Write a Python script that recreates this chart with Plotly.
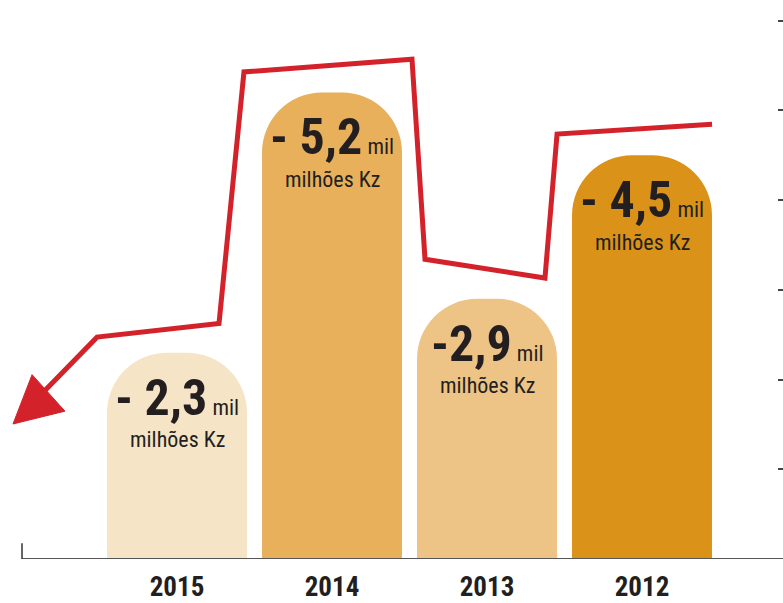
import plotly.graph_objects as go

# ---- data ----
years = ["2015", "2014", "2013", "2012"]
values = [2.3, 5.2, 2.9, 4.5]
value_labels = ["- 2,3", "- 5,2", "-2,9", "- 4,5"]
bar_colors = ["#f6e4c6", "#e8b05b", "#eec386", "#db9218"]
y_ticks = [0, 1, 2, 3, 4, 5, 6]

# decorative trend line (axis units)
trend_x = [-0.852, -0.516, 0.271, 0.432, 1.516, 1.600, 2.374, 2.452, 3.452]
trend_y = [1.879, 2.473, 2.626, 5.429, 5.571, 3.341, 3.132, 4.736, 4.846]
arrow_x = [-1.058, -0.935, -0.723, -1.058]
arrow_y = [1.505, 2.055, 1.648, 1.505]

FONT = "Roboto Condensed, Open Sans Condensed, Liberation Sans Narrow, sans-serif"
TXT = "#231f20"
RED = "#d3222a"

xpos = list(range(len(years)))

fig = go.Figure()
fig.add_trace(go.Bar(
    x=xpos, y=values, width=0.903,
    marker=dict(color=bar_colors, line=dict(width=0), cornerradius=60),
    hoverinfo="skip", showlegend=False,
))
fig.add_trace(go.Scatter(x=trend_x, y=trend_y, mode="lines",
                         line=dict(color=RED, width=5), hoverinfo="skip", showlegend=False))
fig.add_trace(go.Scatter(x=arrow_x, y=arrow_y, mode="lines", fill="toself", fillcolor=RED,
                         line=dict(color=RED, width=1), hoverinfo="skip", showlegend=False))

for xi, v, lab in zip(xpos, values, value_labels):
    fig.add_annotation(x=xi, y=v, showarrow=False, yanchor="middle", yshift=-45,
                       text=f"<b>{lab}</b><span style='font-size:22px'> mil</span>",
                       font=dict(family=FONT, size=50, color=TXT))
    fig.add_annotation(x=xi, y=v, showarrow=False, yanchor="middle", yshift=-87,
                       text="milhões Kz",
                       font=dict(family=FONT, size=22, color=TXT))

x_left = -1.0
x_range = [-177 / 155, (783 - 177) / 155]
fig.add_shape(type="line", x0=x_left, x1=x_range[1], y0=0, y1=0, line=dict(color="#555555", width=2))
fig.add_shape(type="line", x0=x_left, x1=x_left, y0=0, y1=16 / 91, line=dict(color="#333333", width=1.5))

fig.update_layout(
    width=783, height=603, margin=dict(l=0, r=0, t=0, b=36),
    paper_bgcolor="white", plot_bgcolor="white",
    xaxis=dict(range=x_range, tickvals=xpos, ticktext=[f"<b>{y}</b>" for y in years],
               showgrid=False, zeroline=False, showline=False,
               ticks="outside", ticklen=4, tickcolor="rgba(0,0,0,0)",
               tickfont=dict(family=FONT, size=27, color=TXT)),
    yaxis=dict(range=[0, 567 / 91], side="right", tickvals=y_ticks, showticklabels=False,
               ticks="inside", ticklen=5, tickwidth=2, tickcolor="#444444",
               showgrid=False, zeroline=False, showline=False),
)
fig.write_html("out.html")
